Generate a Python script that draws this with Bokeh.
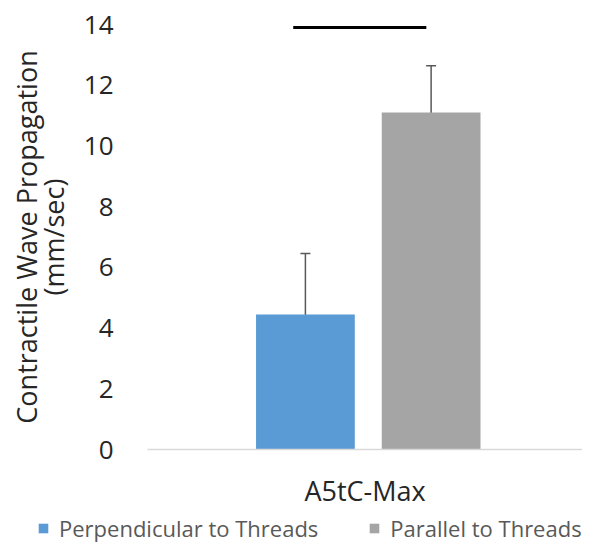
from bokeh.plotting import figure
from bokeh.models import (ColumnDataSource, FactorRange, Range1d, Whisker, Legend,
                          LegendItem)
from bokeh.layouts import column, row
from bokeh.transform import dodge
from bokeh.embed import file_html
from bokeh.resources import INLINE

categories = ["A5tC-Max"]
series = ["Perpendicular to Threads", "Parallel to Threads"]
perp_values = [4.45]
perp_errors = [2.01]
par_values = [11.1]
par_errors = [1.54]
significance_level = [13.9]
y_ticks = [0, 2, 4, 6, 8, 10, 12, 14]

FONT = "Open Sans"
BLUE = "#5B9BD5"
GRAY = "#A5A5A5"

p = figure(x_range=FactorRange(*categories), y_range=Range1d(0, 14),
           frame_width=435, frame_height=425, output_backend="svg", toolbar_location=None,
           min_border_left=147, min_border_right=0, min_border_top=24,
           min_border_bottom=10)
p.outline_line_color = None
p.xgrid.grid_line_color = None
p.ygrid.grid_line_color = None

def make_src(vals, errs):
    return ColumnDataSource(dict(
        cat=categories, top=vals,
        upper=[v + e for v, e in zip(vals, errs)],
        lower=[v - e for v, e in zip(vals, errs)],
    ))

src_perp = make_src(perp_values, perp_errors)
src_par = make_src(par_values, par_errors)

OFF1, OFF2, BW = -0.137, 0.152, 0.227
p.vbar(x=dodge("cat", OFF1, range=p.x_range), top="top", width=BW,
       source=src_perp, fill_color=BLUE, line_color=None)
p.vbar(x=dodge("cat", OFF2, range=p.x_range), top="top", width=BW,
       source=src_par, fill_color=GRAY, line_color=None)

for src, off in ((src_perp, OFF1), (src_par, OFF2)):
    w = Whisker(source=src, base=dodge("cat", off, range=p.x_range),
                upper="upper", lower="lower", line_color="#595959", line_width=1.5)
    for h in (w.upper_head, w.lower_head):
        h.size = 10
        h.line_color = "#595959"
        h.line_width = 1.5
    p.add_layout(w)

sig_src = ColumnDataSource(dict(cat=categories, y=significance_level))
p.segment(x0=dodge("cat", -0.165, range=p.x_range), x1=dodge("cat", 0.141, range=p.x_range),
          y0="y", y1="y", source=sig_src, line_color="black", line_width=3)

# axes
p.yaxis.ticker = y_ticks
p.yaxis.axis_line_color = None
p.yaxis.major_tick_line_color = None
p.yaxis.minor_tick_line_color = None
p.yaxis.major_label_text_font = FONT
p.yaxis.major_label_text_font_size = "26px"
p.yaxis.major_label_text_color = "#262626"
p.yaxis.major_label_standoff = 28
p.yaxis.axis_label = "Contractile Wave Propagation\n(mm/sec)"
p.yaxis.axis_label_text_font = FONT
p.yaxis.axis_label_text_font_size = "27px"
p.yaxis.axis_label_text_font_style = "normal"
p.yaxis.axis_label_text_color = "#262626"
p.yaxis.axis_label_text_line_height = 0.72
p.yaxis.axis_label_standoff = 9

p.xaxis.axis_line_color = "#D9D9D9"
p.xaxis.axis_line_width = 1.5
p.xaxis.major_tick_line_color = None
p.xaxis.minor_tick_line_color = None
p.xaxis.major_label_text_font = FONT
p.xaxis.major_label_text_font_size = "27px"
p.xaxis.major_label_text_color = "#262626"
p.xaxis.major_label_standoff = 16

# legend strip
lg = figure(x_range=Range1d(0, 1), y_range=Range1d(0, 1), width=582, height=32,
            output_backend="svg", toolbar_location=None,
            min_border_left=0, min_border_right=0, min_border_top=0, min_border_bottom=0)
lg.axis.visible = False
lg.xgrid.grid_line_color = None
lg.ygrid.grid_line_color = None
lg.outline_line_color = None
# legend swatches reuse the bar data, drawn outside the strip's visible range
lr1 = lg.vbar(x=[5], top=perp_values, bottom=[4], width=0.1, fill_color=BLUE, line_color=None)
lr2 = lg.vbar(x=[5], top=par_values, bottom=[4], width=0.1, fill_color=GRAY, line_color=None)
legend = Legend(items=[LegendItem(label=series[0], renderers=[lr1]),
                       LegendItem(label=series[1], renderers=[lr2])],
                location=(37, 0), orientation="horizontal",
                padding=0, margin=0, spacing=50, label_standoff=10,
                glyph_width=12, glyph_height=12, label_height=30,
                border_line_color=None, background_fill_alpha=0,
                label_text_font=FONT, label_text_font_size="22px",
                label_text_color="#595959")
lg.add_layout(legend, "center")

layout = column(p, row(lg, spacing=0), spacing=0)
open("out.html", "w").write(file_html(layout, INLINE))
